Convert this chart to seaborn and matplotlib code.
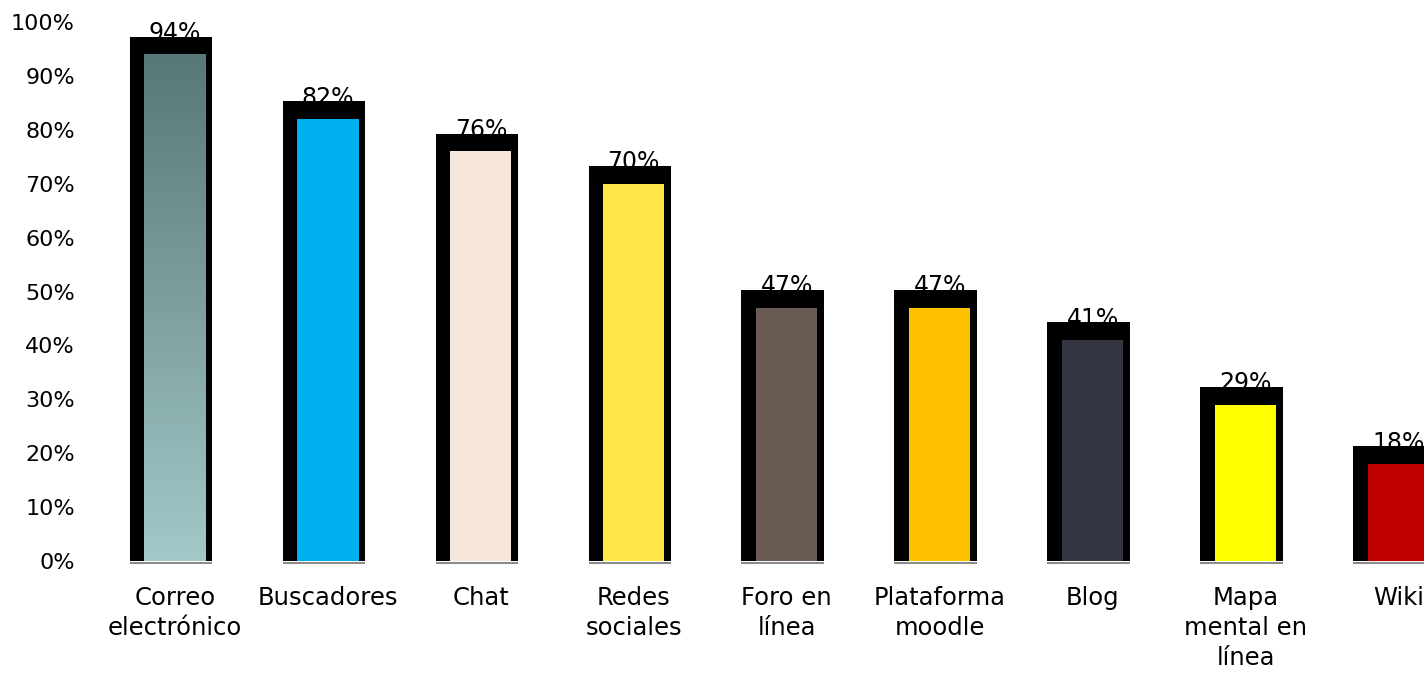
import numpy as np
import pandas as pd
import matplotlib
matplotlib.use("Agg")
import matplotlib.pyplot as plt
import seaborn as sns
from matplotlib.colors import LinearSegmentedColormap

categorias = ["Correo\nelectrónico", "Buscadores", "Chat", "Redes\nsociales",
              "Foro en\nlínea", "Plataforma\nmoodle", "Blog", "Mapa\nmental en\nlínea", "Wiki"]
valores = [94, 82, 76, 70, 47, 47, 41, 29, 18]
colores = ["#7fa3a2", "#00b0f0", "#f5e6d9", "#ffe74a", "#6a5c52",
           "#ffc000", "#333541", "#ffff00", "#c00000"]
yticks = [0, 10, 20, 30, 40, 50, 60, 70, 80, 90, 100]

sns.set_theme(style="white")
plt.rcParams["font.family"] = ["DejaVu Sans"]

W, H = 1424, 673
fig = plt.figure(figsize=(W / 100, H / 100), dpi=100)
# el eje se sale por la derecha como en la imagen original
ax = fig.add_axes([98.5 / W, (H - 561) / H, 1376.5 / W, (561 - 22) / H])

df = pd.DataFrame({"cat": categorias, "val": valores})
x = np.arange(len(valores))

# marco negro (sombra) detrás de cada barra
ax.bar(x - 0.026, np.array(valores) + 3.3, width=0.54, color="black", lw=0, zorder=2)
# línea gris del suelo
ax.hlines([-0.35] * len(x), x - 0.296, x + 0.244, color="#8c8c8c", lw=1.5,
          zorder=2, clip_on=False)

sns.barplot(data=df, x="cat", y="val", hue="cat", palette=colores, legend=False,
            width=0.4, saturation=1, linewidth=0, ax=ax, zorder=3)

# degradado en la primera barra
cmap = LinearSegmentedColormap.from_list("g", ["#a4c8c8", "#577877"])
for patch in ax.patches:
    if patch.get_facecolor()[:3] == matplotlib.colors.to_rgb(colores[0]) and patch.get_width() < 0.5:
        x0, w = patch.get_x(), patch.get_width()
        grad = np.linspace(0, 1, 256).reshape(-1, 1)
        im = ax.imshow(grad, cmap=cmap, extent=[x0, x0 + w, 0, valores[0]],
                       origin="lower", aspect="auto", zorder=3.5)
        im.set_clip_path(patch)

for i, v in enumerate(valores):
    ax.annotate(f"{v}%", (i, v + 3.3), xytext=(0, -6), textcoords="offset points",
                ha="center", va="bottom", fontsize=17, color="black", zorder=1)

ax.set_xlim(-0.5, 8.5)
ax.set_ylim(0, 100)
ax.set_yticks(yticks)
ax.set_yticklabels([f"{t}%" for t in yticks], fontsize=16)
ax.tick_params(axis="y", length=0, pad=17, labelcolor="black")
ax.tick_params(axis="x", length=0, pad=18, labelsize=17.5, labelcolor="black")
for lbl in ax.get_xticklabels():
    lbl.set_linespacing(1.32)
ax.set_xlabel("")
ax.set_ylabel("")
for s in ax.spines.values():
    s.set_visible(False)
ax.grid(False)

fig.savefig("out.png", dpi=100)
